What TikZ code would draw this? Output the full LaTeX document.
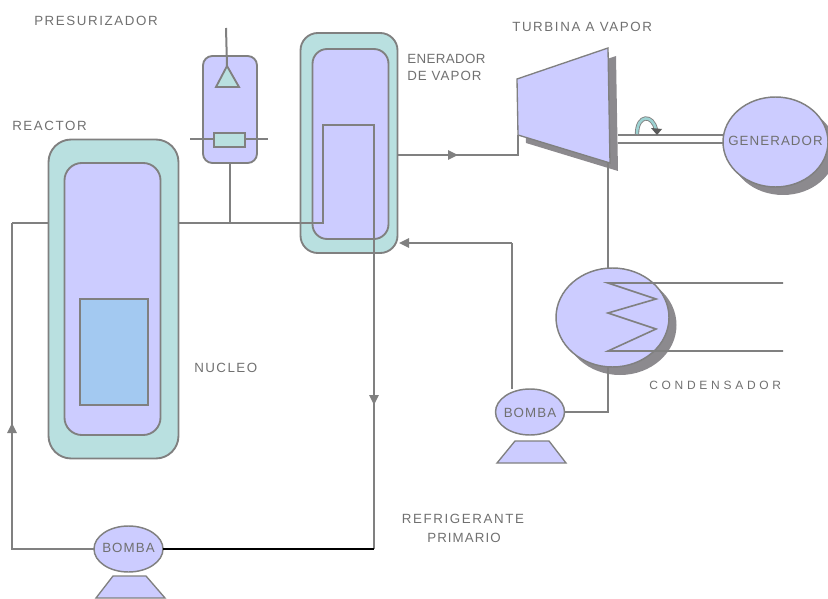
\documentclass[tikz,border=0pt]{standalone}
\usepackage{fontspec}
\setmainfont{Liberation Sans}
\usetikzlibrary{arrows.meta,shapes.geometric}
\definecolor{lav}{HTML}{CCCCFF}
\definecolor{teal1}{HTML}{B9E0E0}
\definecolor{corec}{HTML}{A3C9F1}
\definecolor{ln}{HTML}{808080}
\definecolor{shad}{HTML}{8C8A8E}
\definecolor{txt}{HTML}{707070}
\tikzset{
  x=0.75pt,y=-0.75pt,
  box/.style={draw=ln,line width=1.4pt,rectangle,inner sep=0,outer sep=0},
  ell/.style={draw=ln,line width=1.1pt,fill=lav,ellipse,inner sep=0,outer sep=0},
  shadow/.style={fill=shad,draw=none,ellipse,inner sep=0,outer sep=0},
  pipe/.style={draw=ln,line width=1.5pt},
  flow/.style={pipe,-{Triangle[length=7.5pt,width=7pt]}},
  lab/.style={text=txt,inner sep=0,font=\fontsize{10}{12}\selectfont\addfontfeatures{LetterSpace=12}},
}
\begin{document}
\begin{tikzpicture}
\useasboundingbox (0,0) rectangle (828,599);
% reactor
\node[box,fill=teal1,rounded corners=17pt,minimum width=130*0.75pt,minimum height=319*0.75pt] (reactorOuter) at (113.5,299) {};
\node[box,fill=lav,rounded corners=13pt,minimum width=96*0.75pt,minimum height=272*0.75pt] (reactorInner) at (112.5,299) {};
\node[box,fill=corec,line width=1.1pt,minimum width=68*0.75pt,minimum height=106*0.75pt] (core) at (114,352) {};
% pressurizer
\node[box,fill=lav,rounded corners=7pt,minimum width=54*0.75pt,minimum height=107*0.75pt] (press) at (230,109.5) {};
\coordinate (triApex) at (227,66);
\coordinate (triL) at (216,87);
\coordinate (triR) at (239,87);
\coordinate (pressTop) at (226,28);
\draw[line width=1.4pt,draw=ln,fill=teal1] (triApex) -- (triR) -- (triL) -- cycle;
\draw[pipe] (pressTop) -- (triApex);
\coordinate (heatL) at (190,139);
\coordinate (heatR) at (268,139);
\draw[pipe] (heatL) -- (heatR);
\node[box,fill=teal1,minimum width=31*0.75pt,minimum height=14*0.75pt] (heater) at (229.5,140) {};
% steam generator
\node[box,fill=teal1,rounded corners=13pt,minimum width=97*0.75pt,minimum height=220*0.75pt] (sgOuter) at (349,143) {};
\node[box,fill=lav,rounded corners=11pt,minimum width=76*0.75pt,minimum height=190*0.75pt] (sgInner) at (350.5,144) {};
% turbine
\coordinate (tA) at (517,79);
\coordinate (tB) at (608,48);
\coordinate (tC) at (610,163);
\coordinate (tD) at (518,135);
\fill[shad] (525,87) -- (616,56) -- (618,171) -- (526,143) -- cycle;
\draw[draw=ln,line width=1pt,fill=lav] (tA) -- (tB) -- (tC) -- (tD) -- cycle;
% generator
\node[shadow,minimum width=106*0.75pt,minimum height=90*0.75pt] (genShadow) at (783,150) {};
\node[ell,minimum width=105*0.75pt,minimum height=90*0.75pt] (gen) at (775.5,142) {};
% shaft
\coordinate (sh1) at (618,135);
\coordinate (sh2) at (618,143);
\coordinate (sh3) at (723,135);
\coordinate (sh4) at (723,143);
\draw[pipe] (sh1) -- (sh3);
\draw[pipe] (sh2) -- (sh4);
% rotation arrow
\coordinate (rotA) at (637,134);
\draw[draw=ln,line width=3.2pt] (rotA) .. controls (637,114) and (653,114) .. (656,130);
\draw[draw=teal1!85!teal,line width=1.9pt] (rotA) .. controls (637,114) and (653,114) .. (656,130);
\fill[ln!70!black] (651,128) -- (662,129) -- (657,135) -- cycle;
% condenser
\node[shadow,minimum width=113*0.75pt,minimum height=100*0.75pt] (condShadow) at (620,325) {};
\node[ell,minimum width=113*0.75pt,minimum height=99*0.75pt] (cond) at (612.5,317.5) {};
\coordinate (z1) at (608,283);
\coordinate (z2) at (656,299);
\coordinate (z3) at (608,313);
\coordinate (z4) at (656,329);
\coordinate (z5) at (608,351);
\coordinate (coolA) at (783,283);
\coordinate (coolB) at (783,351);
\draw[pipe,line width=1.2pt] (coolA) -- (z1) -- (z2) -- (z3) -- (z4) -- (z5) -- (coolB);
% pumps
\node[ell,minimum width=69*0.75pt,minimum height=46*0.75pt] (pump2) at (530,412) {};
\coordinate (p2a) at (515,441);
\coordinate (p2b) at (549,441);
\coordinate (p2c) at (566,463);
\coordinate (p2d) at (497,463);
\draw[draw=ln,line width=1pt,fill=lav] (p2a) -- (p2b) -- (p2c) -- (p2d) -- cycle;
\node[ell,minimum width=69*0.75pt,minimum height=46*0.75pt] (pump1) at (128.5,549) {};
\coordinate (p1a) at (113,576);
\coordinate (p1b) at (146,576);
\coordinate (p1c) at (165,598);
\coordinate (p1d) at (96,598);
\draw[draw=ln,line width=1pt,fill=lav] (p1a) -- (p1b) -- (p1c) -- (p1d) -- cycle;
% primary loop
\coordinate (pLeft) at (12,549);
\coordinate (arrUp) at (12,423);
\coordinate (topLeft) at (12,223);
\coordinate (junction) at (230,223);
\coordinate (hotIn) at (323,223);
\coordinate (hotTop) at (323,125);
\coordinate (coldTop) at (374,125);
\coordinate (arrDown) at (374,405);
\coordinate (coldBot) at (374,549);
\draw[pipe] (press.south) -- (press.south |- junction);
\draw[pipe] (topLeft) -- (reactorOuter.west |- topLeft);
\draw[pipe] (reactorOuter.east |- hotIn) -- (hotIn) -- (hotTop) -- (coldTop) -- (coldBot);
\draw[flow] (coldTop) -- (arrDown);
\draw[black,line width=1.5pt] (pump1.east) -- (coldBot);
\draw[pipe] (pump1.west) -- (pLeft) -- (topLeft);
\draw[flow] (pLeft) -- (arrUp);
% secondary loop
\coordinate (steamA) at (518,155);
\coordinate (steamArr) at (458,155);
\draw[pipe] (sgOuter.east |- steamA) -- (steamA) -- (tD);
\draw[flow] (sgOuter.east |- steamA) -- (steamArr);
\coordinate (exhaust) at (608,163);
\draw[pipe] (exhaust) -- (cond.north -| exhaust);
\coordinate (condOut) at (608,412);
\draw[pipe] (cond.south -| condOut) -- (condOut) -- (pump2.east);
\coordinate (feedCorner) at (512,243);
\coordinate (feedEnd) at (399,243);
\draw[pipe] (pump2.north -| feedCorner) -- (feedCorner);
\draw[flow] (feedCorner) -- (feedEnd);
% labels
\node[lab,anchor=west] (tPress) at (34,21) {PRESURIZADOR};
\node[lab,anchor=west] (tReact) at (12,126) {REACTOR};
\node[lab,anchor=west,font=\fontsize{10}{12}\selectfont\addfontfeatures{LetterSpace=3}] (tSg1) at (407,59) {ENERADOR};
\node[lab,anchor=west,font=\fontsize{10}{12}\selectfont\addfontfeatures{LetterSpace=8}] (tSg2) at (407,76) {DE VAPOR};
\node[lab,anchor=west] (tTurb) at (512,27) {TURBINA A VAPOR};
\node[lab,font=\fontsize{10}{12}\selectfont\addfontfeatures{LetterSpace=8}] (tGen) at (775.5,141) {GENERADOR};
\node[lab,anchor=west,font=\fontsize{10}{12}\selectfont\addfontfeatures{LetterSpace=11}] (tNuc) at (194,368) {NUCLEO};
\node[lab,anchor=west,font=\fontsize{9}{12}\selectfont\addfontfeatures{LetterSpace=31}] (tCond) at (649,385) {CONDENSADOR};
\node[lab,font=\fontsize{10}{12}\selectfont\addfontfeatures{LetterSpace=8}] (tB2) at (530,412.5) {BOMBA};
\node[lab,font=\fontsize{10}{12}\selectfont\addfontfeatures{LetterSpace=8}] (tB1) at (128.5,548) {BOMBA};
\node[lab] (tRef1) at (463,519) {REFRIGERANTE};
\node[lab,font=\fontsize{10}{12}\selectfont\addfontfeatures{LetterSpace=8}] (tRef2) at (464,538) {PRIMARIO};
\end{tikzpicture}
\end{document}
